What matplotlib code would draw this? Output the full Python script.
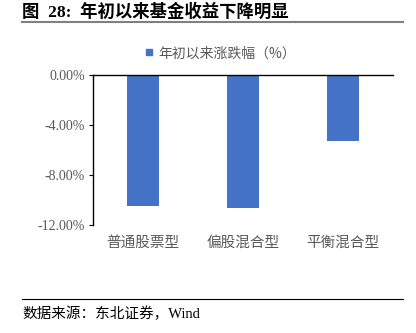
import matplotlib.pyplot as plt
from matplotlib.lines import Line2D
from matplotlib.ticker import FuncFormatter

categories = ['普通股票型', '偏股混合型', '平衡混合型']
returns = [-10.5, -10.6, -5.3]  # 年初以来涨跌幅 (%)
yticks = [0, -4, -8, -12]

cjk = ['Noto Sans CJK SC', 'DejaVu Sans']
mixed = ['Liberation Serif', 'Noto Sans CJK SC']
grey = '#595959'
blue = '#4472C4'

fig = plt.figure(figsize=(4.16, 3.33), dpi=100)
ax = fig.add_axes([0.2236, 0.3243, 0.7212, 0.4505])

x = range(len(categories))
ax.bar(x, returns, width=0.32, color=blue, zorder=2)
ax.set_xlim(-0.5, 2.5)
ax.set_ylim(-12, 0)
ax.set_yticks(yticks)
ax.yaxis.set_major_formatter(FuncFormatter(lambda v, p: f'{v:.2f}%'))
ax.set_xticks([])

for spine in ['right', 'bottom']:
    ax.spines[spine].set_visible(False)
ax.spines['top'].set_linewidth(1.0)
ax.spines['left'].set_linewidth(1.0)
ax.tick_params(axis='y', length=3, width=0.8, pad=3, labelcolor=grey, labelsize=10)
for lab in ax.get_yticklabels():
    lab.set_family('Liberation Serif')

# spaced-out category names under the bars
for i, name in enumerate(categories):
    ax.text(i, -13.4, name, ha='center', va='center', fontsize=10.5,
            color=grey, family=cjk, transform=ax.transData)

# legend above the plot
handle = Line2D([], [], marker='s', linestyle='none', color=blue, markersize=5)
fig.legend([handle], ['年初以来涨跌幅（%）'], loc='center', bbox_to_anchor=(0.527, 0.84),
           frameon=False, prop={'family': cjk, 'size': 10}, labelcolor=grey,
           handletextpad=0.2, handlelength=1.0)

# header and footer
fig.text(0.053, 0.963, '图  28:  年初以来基金收益下降明显', fontsize=12.5, fontweight='bold',
         family=mixed, ha='left', va='center')
fig.add_artist(Line2D([0.053, 0.969], [0.934, 0.934], color='#808080', lw=1.5))
fig.add_artist(Line2D([0.053, 0.969], [0.102, 0.102], color='black', lw=0.8))
fig.text(0.053, 0.057, '数据来源：东北证券，Wind', fontsize=10.5, family=mixed,
         ha='left', va='center')

fig.savefig('out.png', dpi=100)
